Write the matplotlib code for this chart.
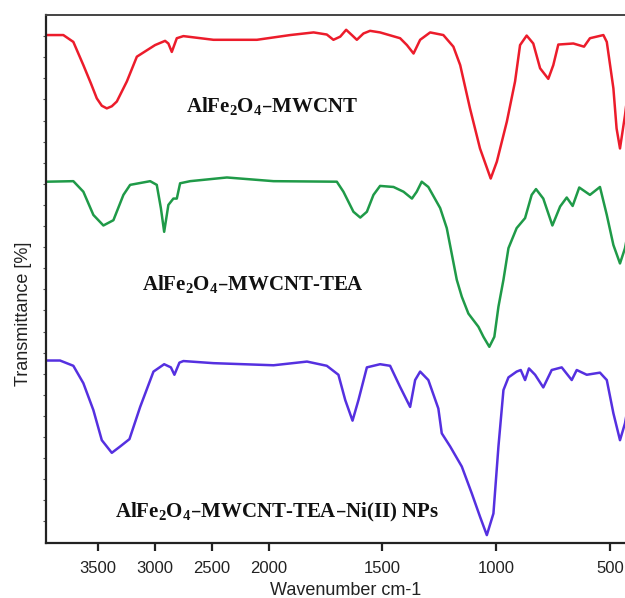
import numpy as np
import matplotlib
matplotlib.use("Agg")
import matplotlib.pyplot as plt

# =====================================================================
# 1. SPECTRA (offset transmittance in %)
# =====================================================================
wn_red = [3949, 3803, 3715, 3627, 3560, 3509, 3465, 3421, 3377, 3333, 3245, 3157, 3099, 2997, 2909,
          2880, 2850, 2806, 2748, 2484, 2102, 1905, 1802, 1744, 1715, 1685, 1659,
          1634, 1612, 1583, 1554, 1510, 1422, 1392, 1363, 1334, 1290, 1232, 1188,
          1158, 1115, 1071, 1024, 997, 953, 917, 895, 866, 837, 807, 771, 749, 727,
          661, 614, 588, 529, 514, 485, 471, 456, 434, 420]
t_red = [96.2, 96.2, 94.9, 90.5, 87.0, 84.2, 82.8, 82.3, 82.7, 83.6, 87.4, 92.1, 92.9, 94.3, 95.1,
         94.6, 93.0, 95.6, 96.0, 95.3, 95.3, 96.2, 96.7, 96.3, 95.3, 95.9, 97.2,
         96.2, 95.3, 96.5, 97.0, 96.7, 95.6, 94.3, 92.7, 95.3, 96.7, 96.2, 94.0,
         90.5, 82.3, 74.7, 69.0, 72.2, 79.8, 87.4, 94.3, 96.1, 94.6, 89.9, 87.9, 90.5, 94.4,
         94.6, 94.0, 95.6, 96.2, 94.9, 86.1, 78.5, 74.7, 81.0, 86.0]

wn_green = [3949, 3715, 3627, 3539, 3451, 3363, 3275, 3216, 3040, 2982, 2946, 2917,
            2880, 2836, 2806, 2777, 2689, 2366, 1978, 1700, 1671, 1627, 1597, 1568,
            1539, 1510, 1451, 1407, 1370, 1349, 1327, 1298, 1246, 1217, 1173, 1151,
            1122, 1078, 1056, 1030, 1008, 990, 968, 946, 910, 873, 844, 825, 793, 753,
            719, 690, 664, 635, 588, 544, 514, 485, 456, 434, 420]
t_green = [68.4, 68.5, 66.5, 62.1, 60.1, 61.1, 65.9, 67.8, 68.5, 67.8, 63.4, 58.9,
           64.0, 65.2, 65.2, 68.1, 68.5, 69.2, 68.5, 68.4, 66.5, 62.7, 61.6, 62.7,
           65.9, 67.6, 67.4, 66.5, 65.2, 66.5, 68.4, 67.4, 63.4, 59.6, 49.8, 46.6,
           43.4, 40.9, 39.0, 37.1, 39.0, 44.7, 49.8, 55.8, 59.6, 61.5, 65.9, 67.0, 65.2, 60.1,
           63.7, 65.4, 63.8, 67.3, 65.9, 67.4, 62.1, 56.4, 52.9, 55.8, 59.0]

wn_blue = [3949, 3832, 3715, 3627, 3539, 3465, 3377, 3304, 3222, 3128, 3011, 2917,
           2858, 2827, 2783, 2748, 2484, 1978, 1831, 1744, 1693, 1663, 1631, 1605,
           1568, 1510, 1466, 1422, 1378, 1356, 1334, 1298, 1254, 1239, 1202, 1151,
           1107, 1071, 1041, 1012, 990, 968, 946, 910, 892, 873, 856, 829, 793, 756,
           712, 668, 646, 602, 544, 514, 485, 456, 434, 420]
t_blue = [34.5, 34.5, 33.5, 30.2, 25.1, 19.4, 17.0, 18.2, 19.6, 25.7, 32.4, 33.8,
          33.2, 31.8, 34.1, 34.4, 34.0, 33.6, 34.3, 33.5, 31.8, 27.0, 23.1, 27.0,
          33.2, 33.8, 33.5, 29.5, 25.7, 30.8, 32.4, 30.8, 25.4, 20.7, 18.2, 14.4,
          9.3, 4.9, 1.4, 5.5, 18.2, 28.9, 31.3, 32.4, 32.7, 30.8, 33.0, 31.8, 29.4, 32.7,
          33.2, 30.8, 32.7, 31.8, 32.2, 30.8, 24.5, 19.4, 22.6, 26.0]

labels = [r"AlFe$_2$O$_4$–MWCNT",
          r"AlFe$_2$O$_4$–MWCNT-TEA",
          r"AlFe$_2$O$_4$–MWCNT-TEA–Ni(II) NPs"]
# label centres in axes fractions
label_pos = [(0.391, 0.827), (0.358, 0.490), (0.400, 0.056)]
colors = ["#ec1c2b", "#1f9a48", "#5530e0"]

x_ticks = [3500, 3000, 2500, 2000, 1500, 1000, 500]


# instrument-style axis: above 2000 cm-1 the scale is compressed by half
def fwd(w):
    w = np.asarray(w, dtype=float)
    return np.where(w > 2000, 2000 + (w - 2000) / 2, w)


def inv(u):
    u = np.asarray(u, dtype=float)
    return np.where(u > 2000, 2000 + (u - 2000) * 2, u)


# =====================================================================
# 2. PLOT
# =====================================================================
plt.rcParams["mathtext.default"] = "regular"

fig = plt.figure(figsize=(6.25, 5.98), dpi=100)
ax = fig.add_axes([0.0731, 0.0928, 0.9269, 0.8821])

for wn, t, c in zip([wn_red, wn_green, wn_blue], [t_red, t_green, t_blue], colors):
    ax.plot(wn, t, color=c, linewidth=1.8, solid_joinstyle="round")

for txt, (x, y) in zip(labels, label_pos):
    ax.text(x, y, txt, transform=ax.transAxes, ha="center", va="center",
            fontsize=15, fontweight="bold", family="Liberation Serif", color="#111111")

ax.set_xscale("function", functions=(fwd, inv))
ax.set_xlim(3958, 434)
ax.set_ylim(0, 100)
ax.set_xticks(x_ticks)
ax.set_xticklabels([str(v) for v in x_ticks])
ax.set_yticks(np.arange(4, 100, 4))
ax.set_yticklabels([])

ax.tick_params(axis="x", direction="out", length=6, width=1.6, pad=7,
               labelsize=12, colors="#222222")
ax.tick_params(axis="y", direction="out", length=2.5, width=0.8, colors="#555555")
for lbl in ax.get_xticklabels():
    lbl.set_family("Liberation Sans")

ax.spines["right"].set_visible(False)
ax.spines["left"].set_linewidth(1.6)
ax.spines["bottom"].set_linewidth(1.6)
ax.spines["top"].set_linewidth(1.4)
ax.spines["top"].set_color("#444444")
ax.spines["left"].set_color("#222222")
ax.spines["bottom"].set_color("#222222")

ax.set_xlabel("Wavenumber cm-1", fontsize=13, family="Liberation Sans", color="#222222")
ax.xaxis.set_label_coords(0.518, -0.074)
ax.set_ylabel("Transmittance [%]", fontsize=13, family="Liberation Sans", color="#222222")
ax.yaxis.set_label_coords(-0.024, 0.433)

plt.savefig("out.png", dpi=100)
